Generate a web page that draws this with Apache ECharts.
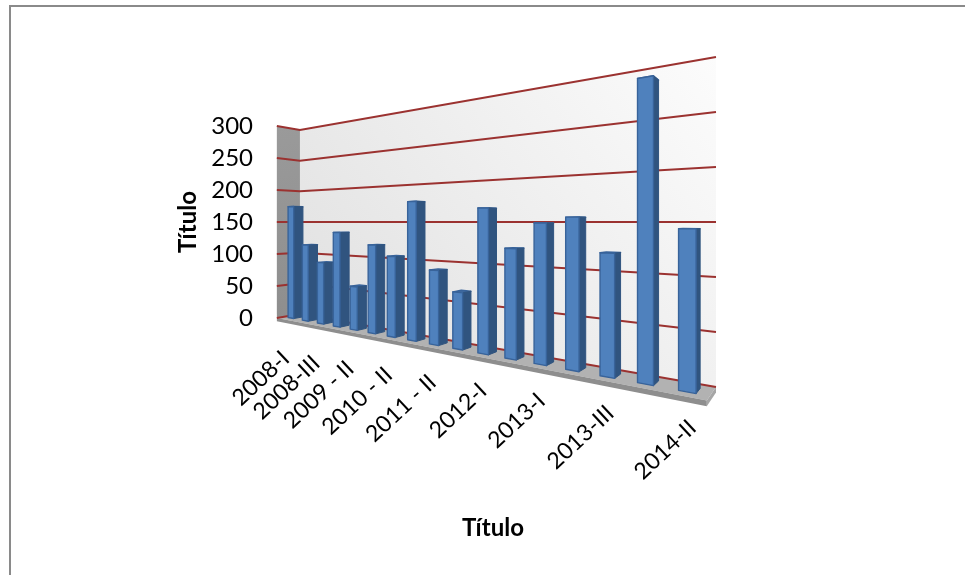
<!DOCTYPE html>
<html>
<head>
<meta charset="utf-8">
<style>html,body{margin:0;padding:0;background:#fff}#c{width:965px;height:575px}</style>
<script src="https://cdn.jsdelivr.net/npm/echarts@6/dist/echarts.min.js"></script>
</head>
<body>
<div id="c"></div>
<script>
const categories = ["2008-I","2008-II","2008-III","2009 - I","2009 - II","2010 - I","2010 - II","2011 - I","2011 - II","2011 - III","2012-I","2012-II","2013-I","2013-II","2013-III","2014-I","2014-II"];
const values = [174,115,90,135,60,119,105,176,91,67,166,121,149,155,120,284,144];
const yTicks = [0,50,100,150,200,250,300];
const labelStep = 2;
const axisTitle = "Título";

const FONT = 'Lato, "Open Sans", sans-serif';
const chart = echarts.init(document.getElementById('c'), null, {renderer:'canvas'});

// two-point perspective of the flat cartesian grid: t along categories (0..1), d depth (0 back .. 1 front)
const K = 0.794, M = 0.075, X0 = 716, XT = 177.9, XD = 62.2, YS = 1.71875;
function project(rect, t, gy, d) {
  const D = 1 + K * (1 - t) - M * d;
  const hz = rect.y + rect.height / 2;
  return [(X0 - XT * (1 - t) - XD * d) / D, hz + (gy - hz) * YS / D];
}
const poly = (points, style, z2) => ({type:'polygon', shape:{points}, style, z2: z2 || 0, silent:true});

function renderScene(params, api) {
  const r = params.coordSys;
  const gy = v => api.coord([0, v])[1];
  const g0 = gy(0), gt = gy(300), gb = gy(-5);
  const P = (t, y, d) => project(r, t, y, d);
  const children = [];
  // back wall
  children.push(poly([P(0,gt,0),P(1,gt,0),P(1,g0,0),P(0,g0,0)],
    {fill:new echarts.graphic.LinearGradient(1,0,0,1,[{offset:0,color:'#fcfcfc'},{offset:1,color:'#dfdfdf'}])}));
  // side wall
  children.push(poly([P(0,gt,1),P(0,gt,0),P(0,g0,0),P(0,g0,1)],
    {fill:new echarts.graphic.LinearGradient(0,0,1,1,[{offset:0,color:'#9a9a9a'},{offset:1,color:'#8e8e8e'}])}));
  // floor with slab edges
  children.push(poly([P(0,g0,0),P(1,g0,0),P(1,g0,1),P(0,g0,1)],{fill:'#b2b2b2'}));
  children.push(poly([P(0,g0,1),P(1,g0,1),P(1,gb,1),P(0,gb,1)],{fill:'#8e8e8e'}));
  children.push(poly([P(1,g0,1),P(1,g0,0),P(1,gb,0),P(1,gb,1)],{fill:'#a6a6a6'}));
  // grid lines
  yTicks.forEach(v => {
    const y = gy(v);
    const a = P(0,y,1), b = P(0,y,0), c = P(1,y,0);
    children.push({type:'polyline', shape:{points:[a,b,c]}, style:{stroke:'#9b3230', lineWidth:2, fill:null}, silent:true});
  });
  return {type:'group', children};
}

function renderBar(params, api) {
  const r = params.coordSys;
  const c = api.coord([api.value(0), api.value(1)]);
  const base = api.coord([api.value(0), 0])[1];
  const band = api.size([1,0])[0];
  const t1 = (c[0] - band * 0.2 - r.x) / r.width;
  const t2 = (c[0] + band * 0.2 - r.x) / r.width;
  const df = 0.7, db = 0.3;
  const P = (t, y, d) => project(r, t, y, d);
  const edge = {stroke:'#38639a', lineWidth:1.4, lineJoin:'round'};
  return {type:'group', children:[
    poly([P(t1,c[1],db),P(t2,c[1],db),P(t2,c[1],df),P(t1,c[1],df)], Object.assign({fill:'#41699c'},edge)),
    poly([P(t2,c[1],df),P(t2,c[1],db),P(t2,base,db),P(t2,base,df)], {fill:'#30547f',stroke:'#30547f',lineWidth:1}),
    poly([P(t1,c[1],df),P(t2,c[1],df),P(t2,base,df),P(t1,base,df)], Object.assign({fill:'#4f81bd'},edge))
  ]};
}

function renderLabel(params, api) {
  const i = api.value(0);
  if (i % labelStep !== 0) return {type:'group', children:[]};
  const r = params.coordSys;
  const c = api.coord([i, 0]);
  const t = (c[0] - r.x) / r.width;
  const p = project(r, t, c[1], 1);
  return {type:'text', x:p[0] + 2 + 7 * t, y:p[1] + 36 - 8 * t, rotation:43 * Math.PI / 180, silent:true,
    style:{text:categories[i], fontFamily:FONT, fontSize:23, fill:'#000', textAlign:'right', textVerticalAlign:'middle'}};
}

chart.setOption({
  animation:false,
  backgroundColor:'#fff',
  graphic:[{type:'rect', shape:{x:10, y:6, width:1200, height:900}, style:{fill:'none', stroke:'#8a8a8a', lineWidth:2}, silent:true, z:-10}],
  grid:{left:277, top:126, width:432, height:192, containLabel:false},
  xAxis:{type:'category', data:categories, name:axisTitle, nameLocation:'middle', nameGap:198,
    nameTextStyle:{fontFamily:FONT, fontWeight:'bold', fontSize:24, color:'#000'},
    axisLine:{show:false}, axisTick:{show:false}, axisLabel:{show:false}, splitLine:{show:false}},
  yAxis:{type:'value', min:0, max:300, interval:50, name:axisTitle, nameLocation:'middle', nameGap:77, nameRotate:90,
    nameTextStyle:{fontFamily:FONT, fontWeight:'bold', fontSize:24, color:'#000'},
    axisLine:{show:false}, axisTick:{show:false}, splitLine:{show:false},
    axisLabel:{fontFamily:FONT, fontSize:24, color:'#000', margin:24, padding:[4,0,0,0]}},
  series:[
    {type:'custom', name:'scene', renderItem:renderScene, data:[[0,0]], z:1, silent:true},
    {type:'custom', name:'bars', renderItem:renderBar, data:values.map((v,i)=>[i,v]), encode:{x:0,y:1}, z:2, silent:true},
    {type:'custom', name:'labels', renderItem:renderLabel, data:categories.map((c,i)=>[i,0]), encode:{x:0,y:1}, z:3, silent:true}
  ]
});
</script>
</body>
</html>
